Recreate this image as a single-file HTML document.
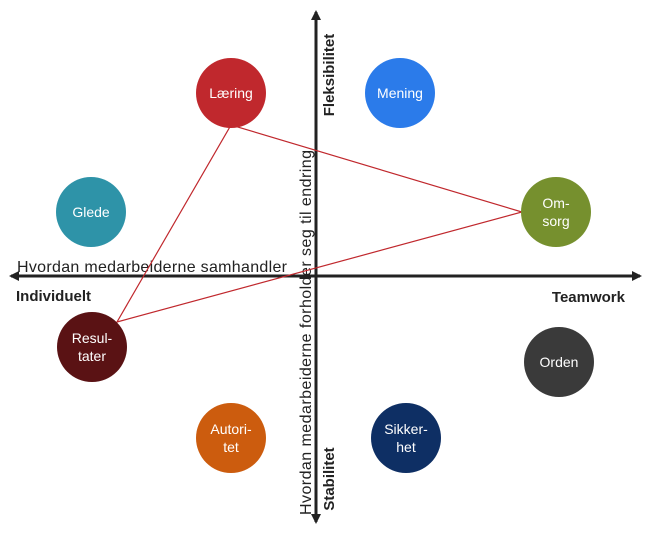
<!DOCTYPE html>
<html><head><style>body{margin:0;background:#fff}</style></head><body>
<svg width="650" height="535" xmlns="http://www.w3.org/2000/svg" font-family="Liberation Sans, sans-serif">
<defs><marker id="a" markerWidth="10" markerHeight="10" refX="8" refY="5" orient="auto" markerUnits="userSpaceOnUse"><path d="M0,0 L10,5 L0,10 z" fill="#222"/></marker></defs>
<line x1="316" y1="522" x2="316" y2="12" stroke="#222" stroke-width="3" marker-end="url(#a)"/>
<line x1="316" y1="14" x2="316" y2="522" stroke="#222" stroke-width="3" marker-end="url(#a)"/>
<line x1="14" y1="276" x2="640" y2="276" stroke="#222" stroke-width="3" marker-end="url(#a)"/>
<line x1="640" y1="276" x2="11" y2="276" stroke="#222" stroke-width="3" marker-end="url(#a)"/>
<text x="17" y="272" font-size="16" fill="#222" textLength="270">Hvordan medarbeiderne samhandler</text>
<text x="16" y="301" font-size="15" font-weight="bold" fill="#222">Individuelt</text>
<text x="625" y="302" font-size="15" font-weight="bold" fill="#222" text-anchor="end">Teamwork</text>
<text transform="translate(311,515) rotate(-90)" font-size="16" fill="#222" textLength="365">Hvordan medarbeiderne forholder seg til endring</text>
<text transform="translate(334,75) rotate(-90)" font-size="15" font-weight="bold" fill="#222" text-anchor="middle">Fleksibilitet</text>
<text transform="translate(334,479) rotate(-90)" font-size="15" font-weight="bold" fill="#222" text-anchor="middle">Stabilitet</text>
<polygon points="231,125 522,212 117,322" fill="none" stroke="#c0282d" stroke-width="1.2"/>
<g font-size="14" fill="#fff" text-anchor="middle">
<circle cx="231" cy="93" r="35" fill="#c0282d"/><text x="231" y="98">Læring</text>
<circle cx="400" cy="93" r="35" fill="#2b7bea"/><text x="400" y="98">Mening</text>
<circle cx="91" cy="212" r="35" fill="#2e93a8"/><text x="91" y="217">Glede</text>
<circle cx="556" cy="212" r="35" fill="#76902e"/><text x="556" y="208">Om-</text><text x="556" y="226">sorg</text>
<circle cx="92" cy="347" r="35" fill="#5a1214"/><text x="92" y="343">Resul-</text><text x="92" y="361">tater</text>
<circle cx="559" cy="362" r="35" fill="#3a3a3a"/><text x="559" y="367">Orden</text>
<circle cx="231" cy="438" r="35" fill="#cc5c0e"/><text x="231" y="434">Autori-</text><text x="231" y="452">tet</text>
<circle cx="406" cy="438" r="35" fill="#0e2f64"/><text x="406" y="434">Sikker-</text><text x="406" y="452">het</text>
</g>
</svg>
</body></html>
